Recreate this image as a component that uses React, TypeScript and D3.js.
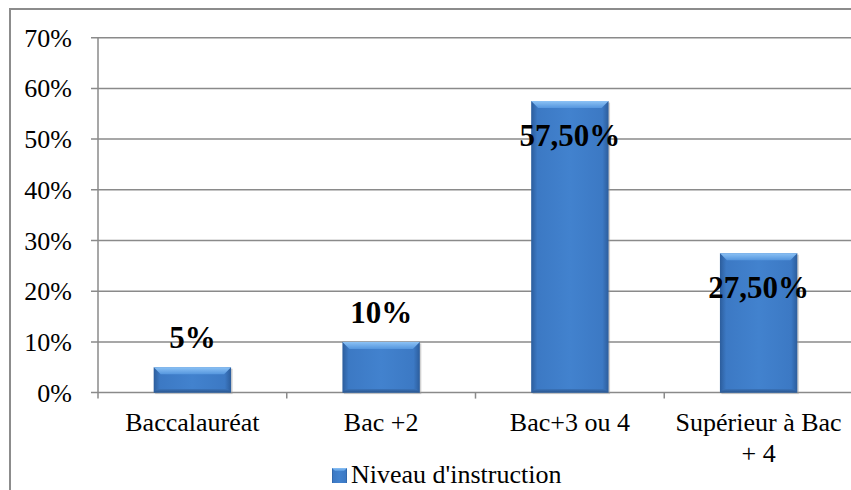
import React from "react";
import * as d3 from "d3";

const categories: string[][] = [
  ["Baccalauréat"],
  ["Bac +2"],
  ["Bac+3 ou 4"],
  ["Supérieur à Bac", "+ 4"],
];
const values: number[] = [0.05, 0.1, 0.575, 0.275];
const valueLabels: string[] = ["5%", "10%", "57,50%", "27,50%"];
const yTicks: number[] = [0, 0.1, 0.2, 0.3, 0.4, 0.5, 0.6, 0.7];
const seriesName = "Niveau d'instruction";

const W = 851;
const H = 490;
const plotLeft = 98;
const plotRight = 853;
const plotTop = 37.7;
const plotBottom = 392.6;
const serif = "'Liberation Serif', 'Times New Roman', serif";
const gridColor = "#8a8a8a";

export default function App() {
  const x = d3
    .scaleBand<number>()
    .domain(d3.range(categories.length))
    .range([plotLeft, plotRight])
    .padding(0);
  const y = d3.scaleLinear().domain([0, 0.7]).range([plotBottom, plotTop]);
  const barW = x.bandwidth() * 0.41;
  const fmt = d3.format(".0%");
  const bevel = 7;

  return (
    <svg
      width={W}
      height={H}
      style={{ position: "absolute", left: 0, top: 0, background: "#fff" }}
    >
      <defs>
        <linearGradient id="barBody" x1="0" x2="1" y1="0" y2="0">
          <stop offset="0" stopColor="#2c5d9c" />
          <stop offset="0.08" stopColor="#3c79c4" />
          <stop offset="0.5" stopColor="#4282ce" />
          <stop offset="0.92" stopColor="#3c79c4" />
          <stop offset="1" stopColor="#2c5d9c" />
        </linearGradient>
        <linearGradient id="barTop" x1="0" x2="0" y1="0" y2="1">
          <stop offset="0" stopColor="#8cc2f5" />
          <stop offset="1" stopColor="#5596de" />
        </linearGradient>
        <linearGradient id="barBottom" x1="0" x2="0" y1="0" y2="1">
          <stop offset="0" stopColor="#3a72b8" />
          <stop offset="1" stopColor="#2a558c" />
        </linearGradient>
      </defs>

      {/* outer chart frame */}
      <rect
        x={10}
        y={9}
        width={W + 10}
        height={H + 10}
        fill="#fff"
        stroke="#8c8c8c"
        strokeWidth={2}
      />

      {/* horizontal gridlines and y ticks */}
      {yTicks.map((t) => (
        <g key={t}>
          <line
            x1={plotLeft - 7}
            x2={plotRight}
            y1={y(t)}
            y2={y(t)}
            stroke={gridColor}
            strokeWidth={1.5}
          />
          <text
            x={72}
            y={y(t) + 9}
            textAnchor="end"
            fontFamily={serif}
            fontSize={26}
            fill="#000"
          >
            {fmt(t)}
          </text>
        </g>
      ))}

      {/* y axis */}
      <line
        x1={plotLeft}
        x2={plotLeft}
        y1={plotTop}
        y2={plotBottom + 6}
        stroke={gridColor}
        strokeWidth={1.5}
      />

      {/* x ticks at category boundaries */}
      {d3.range(1, categories.length + 1).map((i) => {
        const xv = plotLeft + i * x.step();
        return (
          <line
            key={i}
            x1={xv}
            x2={xv}
            y1={plotBottom}
            y2={plotBottom + 6}
            stroke={gridColor}
            strokeWidth={1.5}
          />
        );
      })}

      {/* bars */}
      {values.map((v, i) => {
        const cx = (x(i) as number) + x.bandwidth() / 2;
        const x0 = cx - barW / 2;
        const x1 = cx + barW / 2;
        const top = y(v);
        const bot = y(0);
        const b = Math.min(bevel, (bot - top) / 3);
        return (
          <g key={i}>
            <rect
              x={x0 + 1.5}
              y={top + 1.5}
              width={barW}
              height={bot - top}
              fill="#9a9a9a"
              opacity={0.45}
            />
            <rect x={x0} y={top} width={barW} height={bot - top} fill="url(#barBody)" />
            <polygon
              points={`${x0},${top} ${x1},${top} ${x1 - b},${top + b} ${x0 + b},${top + b}`}
              fill="url(#barTop)"
            />
            <polygon
              points={`${x0},${bot} ${x1},${bot} ${x1 - b / 2},${bot - b / 2} ${x0 + b / 2},${bot - b / 2}`}
              fill="url(#barBottom)"
            />
          </g>
        );
      })}

      {/* value labels */}
      {values.map((v, i) => {
        const cx = (x(i) as number) + x.bandwidth() / 2;
        const inside = v > 0.2;
        const ty = inside ? y(v) + 45 : y(v) - 19;
        return (
          <text
            key={i}
            x={cx}
            y={ty}
            textAnchor="middle"
            fontFamily={serif}
            fontWeight="bold"
            fontSize={31}
            fill="#000"
          >
            {valueLabels[i]}
          </text>
        );
      })}

      {/* category labels */}
      {categories.map((lines, i) => {
        const cx = (x(i) as number) + x.bandwidth() / 2;
        return (
          <text
            key={i}
            x={cx}
            y={430.5}
            textAnchor="middle"
            fontFamily={serif}
            fontSize={26}
            fill="#000"
          >
            {lines.map((l, j) => (
              <tspan key={j} x={cx} dy={j === 0 ? 0 : 31.5}>
                {l}
              </tspan>
            ))}
          </text>
        );
      })}

      {/* legend */}
      <g>
        <rect x={332} y={468} width={15} height={15} fill="url(#barBody)" />
        <polygon points="332,468 347,468 344,471 335,471" fill="url(#barTop)" />
        <text x={351} y={483} fontFamily={serif} fontSize={26} fill="#000">
          {seriesName}
        </text>
      </g>
    </svg>
  );
}
